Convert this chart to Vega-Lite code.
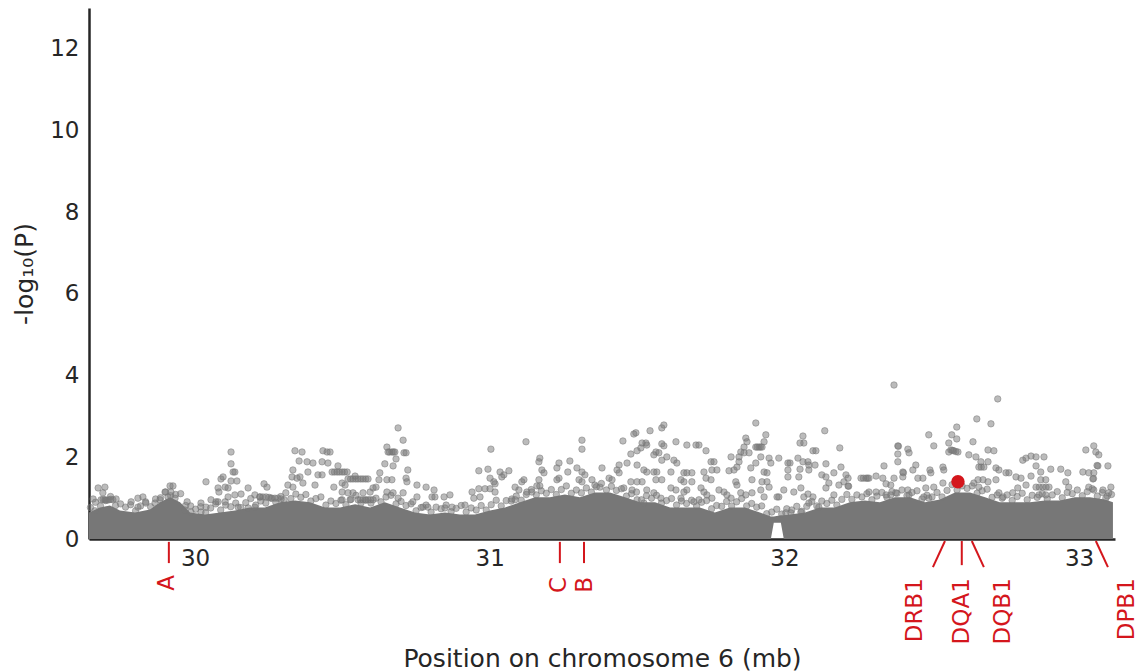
{
"$schema": "https://vega.github.io/schema/vega-lite/v6.json",
"width": 1026, "height": 531,
"autosize": {"type": "none"},
"padding": {"left": 89, "top": 8, "right": 24, "bottom": 132},
"background": "white",
"config": {
 "view": {"stroke": null},
 "font": "DejaVu Sans",
 "axis": {"grid": false, "ticks": false, "domainColor": "#262626", "domainWidth": 2.5, "labelColor": "#262626", "titleColor": "#262626", "labelFontSize": 23, "titleFontSize": 25, "titleFontWeight": "normal", "labelFont": "DejaVu Sans", "titleFont": "DejaVu Sans"}
},
"layer": [
 {
  "data": {"values": [
   {"x":29.640,"y":0.65,"lo":0},{"x":29.677,"y":0.77,"lo":0},{"x":29.711,"y":0.82,"lo":0},{"x":29.745,"y":0.70,"lo":0},{"x":29.796,"y":0.65,"lo":0},{"x":29.847,"y":0.72,"lo":0},{"x":29.881,"y":0.90,"lo":0},{"x":29.915,"y":1.02,"lo":0},{"x":29.949,"y":0.90,"lo":0},{"x":29.983,"y":0.65,"lo":0},{"x":30.034,"y":0.60,"lo":0},{"x":30.085,"y":0.65,"lo":0},{"x":30.135,"y":0.70,"lo":0},{"x":30.186,"y":0.77,"lo":0},{"x":30.237,"y":0.77,"lo":0},{"x":30.288,"y":0.90,"lo":0},{"x":30.339,"y":0.94,"lo":0},{"x":30.390,"y":0.90,"lo":0},{"x":30.441,"y":0.77,"lo":0},{"x":30.492,"y":0.77,"lo":0},{"x":30.543,"y":0.85,"lo":0},{"x":30.594,"y":0.77,"lo":0},{"x":30.644,"y":0.90,"lo":0},{"x":30.695,"y":0.77,"lo":0},{"x":30.746,"y":0.65,"lo":0},{"x":30.797,"y":0.60,"lo":0},{"x":30.848,"y":0.65,"lo":0},{"x":30.899,"y":0.60,"lo":0},{"x":30.950,"y":0.60,"lo":0},{"x":31.001,"y":0.70,"lo":0},{"x":31.052,"y":0.77,"lo":0},{"x":31.103,"y":0.90,"lo":0},{"x":31.154,"y":1.02,"lo":0},{"x":31.204,"y":1.02,"lo":0},{"x":31.255,"y":1.09,"lo":0},{"x":31.306,"y":1.02,"lo":0},{"x":31.357,"y":1.14,"lo":0},{"x":31.408,"y":1.14,"lo":0},{"x":31.459,"y":1.02,"lo":0},{"x":31.510,"y":0.90,"lo":0},{"x":31.561,"y":0.90,"lo":0},{"x":31.612,"y":0.77,"lo":0},{"x":31.662,"y":0.77,"lo":0},{"x":31.713,"y":0.77,"lo":0},{"x":31.764,"y":0.65,"lo":0},{"x":31.815,"y":0.77,"lo":0},{"x":31.866,"y":0.77,"lo":0},{"x":31.917,"y":0.65,"lo":0},{"x":31.954,"y":0.55,"lo":0},{"x":31.964,"y":0.55,"lo":0.40},{"x":31.988,"y":0.58,"lo":0.40},{"x":31.998,"y":0.58,"lo":0},{"x":32.019,"y":0.60,"lo":0},{"x":32.070,"y":0.65,"lo":0},{"x":32.120,"y":0.77,"lo":0},{"x":32.171,"y":0.77,"lo":0},{"x":32.222,"y":0.90,"lo":0},{"x":32.273,"y":0.94,"lo":0},{"x":32.324,"y":0.90,"lo":0},{"x":32.375,"y":1.02,"lo":0},{"x":32.426,"y":1.02,"lo":0},{"x":32.477,"y":0.90,"lo":0},{"x":32.528,"y":0.97,"lo":0},{"x":32.579,"y":1.14,"lo":0},{"x":32.630,"y":1.14,"lo":0},{"x":32.681,"y":1.02,"lo":0},{"x":32.731,"y":0.90,"lo":0},{"x":32.782,"y":0.90,"lo":0},{"x":32.833,"y":0.90,"lo":0},{"x":32.884,"y":0.94,"lo":0},{"x":32.935,"y":0.94,"lo":0},{"x":32.986,"y":1.02,"lo":0},{"x":33.037,"y":1.02,"lo":0},{"x":33.088,"y":0.97,"lo":0},{"x":33.115,"y":0.90,"lo":0}
  ]},
  "mark": {"type": "area", "color": "#777777", "opacity": 1},
  "encoding": {
   "x": {"field": "x", "type": "quantitative", "title": "Position on chromosome 6 (mb)", "scale": {"domain": [29.64, 33.122], "nice": false, "zero": false}, "axis": {"values": [30, 31, 32, 33], "format": "d", "labelPadding": 8, "titlePadding": 76}},
   "y": {"field": "y", "type": "quantitative", "title": "-log₁₀(P)", "scale": {"domain": [0, 13], "nice": false}, "axis": {"values": [0, 2, 4, 6, 8, 10, 12], "labelPadding": 10, "titlePadding": 12}},
   "y2": {"field": "lo"}
  }
 },
 {
  "data": {"values": [
   {"x":29.645,"y":0.77},{"x":29.662,"y":0.90},{"x":29.679,"y":0.81},{"x":29.696,"y":0.94},{"x":29.713,"y":1.04},{"x":29.730,"y":0.82},{"x":29.747,"y":0.86},{"x":29.764,"y":0.78},{"x":29.781,"y":0.84},{"x":29.798,"y":0.69},{"x":29.815,"y":0.81},{"x":29.832,"y":0.91},{"x":29.849,"y":0.79},{"x":29.866,"y":0.98},{"x":29.883,"y":1.01},{"x":29.900,"y":1.15},{"x":29.917,"y":1.06},{"x":29.934,"y":1.09},{"x":29.951,"y":1.11},{"x":29.968,"y":0.82},{"x":29.985,"y":0.81},{"x":30.002,"y":0.73},{"x":30.019,"y":0.79},{"x":30.036,"y":0.64},{"x":30.053,"y":0.76},{"x":30.070,"y":0.86},{"x":30.087,"y":0.71},{"x":30.104,"y":0.83},{"x":30.121,"y":0.79},{"x":30.138,"y":0.88},{"x":30.155,"y":0.77},{"x":30.172,"y":0.89},{"x":30.189,"y":0.99},{"x":30.206,"y":0.83},{"x":30.223,"y":0.93},{"x":30.240,"y":0.88},{"x":30.257,"y":1.00},{"x":30.274,"y":0.90},{"x":30.291,"y":1.04},{"x":30.308,"y":1.13},{"x":30.325,"y":0.99},{"x":30.342,"y":1.10},{"x":30.359,"y":1.02},{"x":30.376,"y":1.09},{"x":30.393,"y":0.93},{"x":30.410,"y":0.99},{"x":30.427,"y":1.03},{"x":30.444,"y":0.83},{"x":30.461,"y":0.93},{"x":30.478,"y":0.87},{"x":30.495,"y":0.95},{"x":30.512,"y":0.84},{"x":30.529,"y":0.97},{"x":30.546,"y":1.07},{"x":30.563,"y":0.88},{"x":30.580,"y":0.95},{"x":30.597,"y":0.88},{"x":30.614,"y":1.00},{"x":30.631,"y":0.91},{"x":30.648,"y":1.03},{"x":30.665,"y":1.07},{"x":30.682,"y":0.86},{"x":30.699,"y":0.92},{"x":30.716,"y":0.82},{"x":30.733,"y":0.86},{"x":30.750,"y":0.69},{"x":30.767,"y":0.77},{"x":30.784,"y":0.83},{"x":30.801,"y":0.66},{"x":30.818,"y":0.78},{"x":30.835,"y":0.74},{"x":30.852,"y":0.83},{"x":30.869,"y":0.67},{"x":30.886,"y":0.75},{"x":30.903,"y":0.82},{"x":30.920,"y":0.66},{"x":30.937,"y":0.76},{"x":30.954,"y":0.71},{"x":30.971,"y":0.82},{"x":30.988,"y":0.71},{"x":31.005,"y":0.84},{"x":31.022,"y":0.95},{"x":31.039,"y":0.81},{"x":31.056,"y":0.94},{"x":31.073,"y":0.93},{"x":31.090,"y":1.05},{"x":31.107,"y":0.95},{"x":31.124,"y":1.09},{"x":31.141,"y":1.21},{"x":31.158,"y":1.08},{"x":31.175,"y":1.18},{"x":31.192,"y":1.12},{"x":31.209,"y":1.21},{"x":31.226,"y":1.09},{"x":31.243,"y":1.21},{"x":31.260,"y":1.30},{"x":31.277,"y":1.12},{"x":31.294,"y":1.20},{"x":31.311,"y":1.13},{"x":31.328,"y":1.25},{"x":31.345,"y":1.15},{"x":31.362,"y":1.28},{"x":31.379,"y":1.36},{"x":31.396,"y":1.20},{"x":31.413,"y":1.29},{"x":31.430,"y":1.19},{"x":31.447,"y":1.23},{"x":31.464,"y":1.05},{"x":31.481,"y":1.11},{"x":31.498,"y":1.15},{"x":31.515,"y":0.96},{"x":31.532,"y":1.06},{"x":31.549,"y":1.00},{"x":31.566,"y":1.07},{"x":31.583,"y":0.88},{"x":31.600,"y":0.94},{"x":31.617,"y":0.99},{"x":31.634,"y":0.83},{"x":31.651,"y":0.93},{"x":31.668,"y":0.87},{"x":31.685,"y":0.95},{"x":31.702,"y":0.81},{"x":31.719,"y":0.90},{"x":31.736,"y":0.94},{"x":31.753,"y":0.74},{"x":31.770,"y":0.82},{"x":31.787,"y":0.80},{"x":31.804,"y":0.92},{"x":31.821,"y":0.81},{"x":31.838,"y":0.91},{"x":31.855,"y":0.99},{"x":31.872,"y":0.81},{"x":31.889,"y":0.87},{"x":31.906,"y":0.78},{"x":31.923,"y":0.81},{"x":31.940,"y":0.62},{"x":31.957,"y":0.66},{"x":31.974,"y":0.73},{"x":31.991,"y":0.61},{"x":32.008,"y":0.74},{"x":32.025,"y":0.71},{"x":32.042,"y":0.80},{"x":32.059,"y":0.68},{"x":32.076,"y":0.80},{"x":32.093,"y":0.92},{"x":32.110,"y":0.81},{"x":32.127,"y":0.93},{"x":32.144,"y":0.87},{"x":32.161,"y":0.95},{"x":32.178,"y":0.83},{"x":32.195,"y":0.97},{"x":32.212,"y":1.09},{"x":32.229,"y":0.97},{"x":32.246,"y":1.08},{"x":32.263,"y":1.03},{"x":32.280,"y":1.11},{"x":32.297,"y":0.96},{"x":32.314,"y":1.05},{"x":32.331,"y":1.14},{"x":32.348,"y":1.02},{"x":32.365,"y":1.16},{"x":32.382,"y":1.12},{"x":32.399,"y":1.20},{"x":32.416,"y":1.06},{"x":32.433,"y":1.14},{"x":32.450,"y":1.18},{"x":32.467,"y":0.98},{"x":32.484,"y":1.07},{"x":32.501,"y":1.03},{"x":32.518,"y":1.14},{"x":32.535,"y":1.03},{"x":32.552,"y":1.19},{"x":32.569,"y":1.33},{"x":32.586,"y":1.20},{"x":32.603,"y":1.30},{"x":32.620,"y":1.24},{"x":32.637,"y":1.30},{"x":32.654,"y":1.12},{"x":32.671,"y":1.18},{"x":32.688,"y":1.22},{"x":32.705,"y":1.02},{"x":32.722,"y":1.08},{"x":32.739,"y":1.00},{"x":32.756,"y":1.08},{"x":32.773,"y":0.94},{"x":32.790,"y":1.04},{"x":32.807,"y":1.12},{"x":32.824,"y":0.96},{"x":32.841,"y":1.07},{"x":32.858,"y":1.02},{"x":32.875,"y":1.11},{"x":32.892,"y":0.98},{"x":32.909,"y":1.08},{"x":32.926,"y":1.16},{"x":32.943,"y":1.01},{"x":32.960,"y":1.14},{"x":32.977,"y":1.11},{"x":32.994,"y":1.20},{"x":33.011,"y":1.06},{"x":33.028,"y":1.16},{"x":33.045,"y":1.23},{"x":33.062,"y":1.05},{"x":33.079,"y":1.14},{"x":33.096,"y":1.05},{"x":33.110,"y":1.09},
   {"x":29.654,"y":0.98},{"x":29.671,"y":1.25},{"x":29.694,"y":1.27},{"x":29.687,"y":1.13},{"x":29.681,"y":0.96},{"x":29.694,"y":0.96},{"x":29.708,"y":0.96},{"x":29.721,"y":0.96},{"x":29.688,"y":0.97},{"x":29.701,"y":0.95},{"x":29.714,"y":0.97},{"x":29.732,"y":0.98},{"x":29.660,"y":0.69},{"x":29.783,"y":0.91},{"x":29.806,"y":1.00},{"x":29.823,"y":1.03},{"x":29.833,"y":0.88},{"x":29.806,"y":0.78},{"x":29.864,"y":0.88},{"x":29.881,"y":0.96},{"x":29.898,"y":1.15},{"x":29.915,"y":1.30},{"x":29.925,"y":1.30},{"x":29.918,"y":1.15},{"x":29.908,"y":1.03},{"x":29.932,"y":1.00},{"x":29.973,"y":0.91},{"x":29.966,"y":0.71},{"x":29.986,"y":0.66},{"x":30.020,"y":0.88},{"x":30.037,"y":0.78},{"x":30.054,"y":0.96},{"x":30.071,"y":0.91},{"x":30.037,"y":1.40},{"x":30.088,"y":1.47},{"x":30.095,"y":1.52},{"x":30.078,"y":1.25},{"x":30.081,"y":1.15},{"x":30.102,"y":1.27},{"x":30.112,"y":1.25},{"x":30.122,"y":2.13},{"x":30.122,"y":1.84},{"x":30.129,"y":1.64},{"x":30.135,"y":1.64},{"x":30.122,"y":1.42},{"x":30.142,"y":1.42},{"x":30.112,"y":1.03},{"x":30.135,"y":1.08},{"x":30.156,"y":1.10},{"x":30.180,"y":1.25},{"x":30.102,"y":0.91},{"x":30.078,"y":0.91},{"x":30.203,"y":1.08},{"x":30.220,"y":1.03},{"x":30.146,"y":0.78},{"x":30.180,"y":0.76},{"x":30.203,"y":0.78},{"x":30.020,"y":0.66},
   {"x":30.689,"y":2.72},{"x":30.706,"y":2.42},{"x":30.709,"y":2.11},{"x":30.716,"y":2.11},{"x":30.655,"y":2.13},{"x":30.660,"y":2.13},{"x":30.668,"y":2.13},{"x":30.673,"y":2.13},{"x":30.678,"y":2.13},{"x":30.651,"y":2.25},{"x":30.682,"y":1.96},{"x":30.644,"y":1.84},{"x":30.672,"y":1.79},{"x":30.722,"y":1.69},{"x":30.716,"y":1.49},{"x":30.719,"y":1.40},{"x":30.668,"y":1.45},{"x":30.651,"y":1.45},{"x":30.627,"y":1.62},{"x":30.624,"y":1.45},{"x":30.753,"y":1.32},{"x":30.784,"y":1.27},{"x":30.339,"y":2.16},{"x":30.363,"y":2.13},{"x":30.434,"y":2.16},{"x":30.448,"y":2.13},{"x":30.458,"y":2.13},{"x":30.353,"y":1.91},{"x":30.380,"y":1.89},{"x":30.400,"y":1.86},{"x":30.431,"y":1.89},{"x":30.451,"y":1.86},{"x":30.485,"y":1.79},{"x":30.383,"y":1.64},{"x":30.417,"y":1.57},{"x":30.431,"y":1.57},{"x":30.465,"y":1.64},{"x":30.473,"y":1.64},{"x":30.482,"y":1.64},{"x":30.490,"y":1.64},{"x":30.499,"y":1.64},{"x":30.507,"y":1.64},{"x":30.516,"y":1.64},{"x":30.332,"y":1.69},{"x":30.329,"y":1.52},{"x":30.346,"y":1.49},{"x":30.356,"y":1.52},{"x":30.519,"y":1.47},{"x":30.528,"y":1.47},{"x":30.536,"y":1.47},{"x":30.545,"y":1.47},{"x":30.553,"y":1.47},{"x":30.562,"y":1.47},{"x":30.570,"y":1.47},{"x":30.579,"y":1.47},{"x":30.587,"y":1.47},{"x":30.543,"y":1.54},{"x":30.234,"y":1.35},{"x":30.244,"y":1.27},{"x":30.315,"y":1.32},{"x":30.332,"y":1.27},{"x":30.366,"y":1.37},{"x":30.407,"y":1.32},{"x":30.499,"y":1.37},{"x":30.509,"y":1.32},{"x":30.471,"y":1.27},{"x":30.604,"y":1.25},{"x":30.614,"y":1.27},{"x":30.499,"y":1.15},{"x":30.519,"y":1.13},{"x":30.536,"y":1.13},{"x":30.553,"y":0.96},{"x":30.561,"y":0.96},{"x":30.570,"y":0.96},{"x":30.578,"y":0.96},{"x":30.587,"y":0.96},{"x":30.595,"y":0.96},{"x":30.604,"y":0.96},{"x":30.499,"y":0.96},{"x":30.526,"y":0.96},{"x":30.570,"y":1.13},{"x":30.594,"y":1.15},{"x":30.651,"y":1.15},{"x":30.672,"y":1.13},{"x":30.689,"y":1.00},{"x":30.706,"y":1.13},{"x":30.739,"y":0.91},{"x":30.753,"y":1.03},{"x":30.773,"y":0.78},{"x":30.790,"y":0.78},{"x":30.804,"y":1.03},{"x":30.220,"y":1.03},{"x":30.230,"y":1.03},{"x":30.241,"y":1.03},{"x":30.251,"y":1.02},{"x":30.261,"y":1.00},{"x":30.271,"y":1.00},{"x":30.281,"y":1.00},{"x":30.292,"y":0.98},{"x":30.302,"y":0.96},
   {"x":31.004,"y":2.20},{"x":31.123,"y":2.38},{"x":31.313,"y":2.42},{"x":31.313,"y":2.20},{"x":30.963,"y":1.67},{"x":30.994,"y":1.71},{"x":31.035,"y":1.64},{"x":31.048,"y":1.57},{"x":31.065,"y":1.67},{"x":31.041,"y":1.52},{"x":31.001,"y":1.49},{"x":31.014,"y":1.40},{"x":31.018,"y":1.35},{"x":31.167,"y":1.89},{"x":31.170,"y":1.98},{"x":31.177,"y":1.69},{"x":31.184,"y":1.62},{"x":31.235,"y":1.86},{"x":31.228,"y":1.74},{"x":31.272,"y":1.91},{"x":31.265,"y":1.64},{"x":31.296,"y":1.74},{"x":31.313,"y":1.64},{"x":31.323,"y":1.57},{"x":31.381,"y":1.74},{"x":31.109,"y":1.40},{"x":31.116,"y":1.45},{"x":31.086,"y":1.27},{"x":31.099,"y":1.20},{"x":31.167,"y":1.45},{"x":30.963,"y":1.23},{"x":30.984,"y":1.23},{"x":31.001,"y":1.23},{"x":30.940,"y":1.15},{"x":30.967,"y":1.03},{"x":31.018,"y":1.15},{"x":31.075,"y":0.98},{"x":31.086,"y":0.96},{"x":31.126,"y":1.15},{"x":31.143,"y":1.15},{"x":31.160,"y":1.30},{"x":31.170,"y":1.30},{"x":31.228,"y":1.45},{"x":31.235,"y":1.49},{"x":31.303,"y":1.45},{"x":31.313,"y":1.40},{"x":31.347,"y":1.45},{"x":31.357,"y":1.32},{"x":31.374,"y":1.27},{"x":30.811,"y":1.20},{"x":30.845,"y":1.03},{"x":30.865,"y":1.08},{"x":30.814,"y":1.03},{"x":30.916,"y":0.83},{"x":30.946,"y":1.00},{"x":30.872,"y":0.78},{"x":30.848,"y":0.76},
   {"x":31.591,"y":2.79},{"x":31.584,"y":2.72},{"x":31.544,"y":2.65},{"x":31.496,"y":2.60},{"x":31.489,"y":2.57},{"x":31.903,"y":2.84},{"x":31.452,"y":2.40},{"x":31.517,"y":2.35},{"x":31.530,"y":2.35},{"x":31.533,"y":2.30},{"x":31.584,"y":2.33},{"x":31.591,"y":2.28},{"x":31.632,"y":2.38},{"x":31.669,"y":2.30},{"x":31.700,"y":2.30},{"x":31.710,"y":2.30},{"x":31.734,"y":2.16},{"x":31.564,"y":2.13},{"x":31.574,"y":2.11},{"x":31.557,"y":2.06},{"x":31.500,"y":2.16},{"x":31.513,"y":2.23},{"x":31.479,"y":2.08},{"x":31.937,"y":2.55},{"x":31.931,"y":2.38},{"x":31.869,"y":2.47},{"x":31.873,"y":2.38},{"x":31.863,"y":2.25},{"x":31.903,"y":2.25},{"x":31.908,"y":2.25},{"x":31.914,"y":2.25},{"x":31.919,"y":2.25},{"x":31.924,"y":2.25},{"x":31.852,"y":2.13},{"x":31.863,"y":2.11},{"x":31.880,"y":2.11},{"x":31.819,"y":2.01},{"x":31.846,"y":2.01},{"x":31.948,"y":1.98},{"x":31.954,"y":1.86},{"x":31.920,"y":2.01},{"x":31.751,"y":1.89},{"x":31.761,"y":1.89},{"x":31.846,"y":1.89},{"x":31.839,"y":1.76},{"x":31.903,"y":1.86},{"x":31.886,"y":1.74},{"x":31.439,"y":1.81},{"x":31.432,"y":1.69},{"x":31.439,"y":1.62},{"x":31.466,"y":1.86},{"x":31.500,"y":1.81},{"x":31.584,"y":1.93},{"x":31.601,"y":2.01},{"x":31.625,"y":1.93},{"x":31.635,"y":1.86},{"x":31.523,"y":1.69},{"x":31.533,"y":1.64},{"x":31.557,"y":1.64},{"x":31.567,"y":1.64},{"x":31.615,"y":1.64},{"x":31.659,"y":1.62},{"x":31.669,"y":1.62},{"x":31.686,"y":1.62},{"x":31.727,"y":1.64},{"x":31.754,"y":1.69},{"x":31.771,"y":1.69},{"x":31.812,"y":1.67},{"x":31.829,"y":1.69},{"x":31.941,"y":1.62},{"x":31.931,"y":1.64},{"x":31.405,"y":1.49},{"x":31.415,"y":1.45},{"x":31.479,"y":1.40},{"x":31.500,"y":1.40},{"x":31.517,"y":1.40},{"x":31.564,"y":1.45},{"x":31.584,"y":1.45},{"x":31.649,"y":1.45},{"x":31.659,"y":1.40},{"x":31.686,"y":1.40},{"x":31.734,"y":1.49},{"x":31.751,"y":1.45},{"x":31.835,"y":1.40},{"x":31.839,"y":1.32},{"x":31.890,"y":1.45},{"x":31.924,"y":1.40},{"x":31.941,"y":1.40},{"x":31.948,"y":1.27},{"x":31.615,"y":1.25},{"x":31.632,"y":1.20},{"x":31.659,"y":1.15},{"x":31.669,"y":1.20},{"x":31.455,"y":1.25},{"x":31.483,"y":1.20},{"x":31.533,"y":1.20},{"x":31.557,"y":1.13},{"x":31.717,"y":1.25},{"x":31.727,"y":1.15},{"x":31.778,"y":1.20},{"x":31.795,"y":1.15},{"x":31.805,"y":1.08},{"x":31.819,"y":1.00},{"x":31.852,"y":1.13},{"x":31.869,"y":1.08},{"x":31.890,"y":1.13},{"x":31.920,"y":1.20},{"x":31.931,"y":1.03},{"x":31.975,"y":1.03},{"x":31.500,"y":0.96},{"x":31.523,"y":0.88},{"x":31.581,"y":1.00},{"x":31.649,"y":1.00},{"x":31.693,"y":0.91},{"x":31.710,"y":0.96},{"x":31.737,"y":1.08},{"x":31.754,"y":1.00},
   {"x":32.372,"y":3.77},{"x":32.137,"y":2.65},{"x":32.063,"y":2.52},{"x":32.053,"y":2.35},{"x":32.066,"y":2.35},{"x":32.097,"y":2.16},{"x":32.107,"y":2.16},{"x":32.188,"y":2.23},{"x":31.981,"y":1.98},{"x":32.046,"y":1.98},{"x":32.063,"y":1.89},{"x":32.080,"y":1.89},{"x":32.012,"y":1.86},{"x":32.019,"y":1.86},{"x":32.385,"y":2.28},{"x":32.387,"y":2.27},{"x":32.419,"y":2.20},{"x":32.423,"y":2.11},{"x":32.490,"y":2.55},{"x":32.507,"y":2.28},{"x":32.558,"y":2.35},{"x":32.558,"y":2.13},{"x":32.385,"y":1.89},{"x":32.385,"y":2.08},{"x":32.141,"y":1.84},{"x":32.083,"y":1.81},{"x":32.104,"y":1.81},{"x":32.053,"y":1.71},{"x":32.192,"y":1.76},{"x":32.338,"y":1.79},{"x":32.446,"y":1.81},{"x":32.436,"y":1.69},{"x":32.494,"y":1.69},{"x":32.497,"y":1.62},{"x":32.538,"y":1.76},{"x":32.541,"y":1.69},{"x":32.012,"y":1.69},{"x":32.012,"y":1.52},{"x":32.083,"y":1.69},{"x":32.049,"y":1.52},{"x":32.127,"y":1.57},{"x":32.168,"y":1.62},{"x":32.151,"y":1.37},{"x":32.141,"y":1.25},{"x":32.209,"y":1.57},{"x":32.216,"y":1.49},{"x":32.260,"y":1.49},{"x":32.268,"y":1.49},{"x":32.277,"y":1.49},{"x":32.282,"y":1.49},{"x":32.287,"y":1.49},{"x":32.311,"y":1.54},{"x":32.334,"y":1.49},{"x":32.402,"y":1.64},{"x":32.404,"y":1.62},{"x":32.402,"y":1.52},{"x":32.372,"y":1.49},{"x":32.361,"y":1.32},{"x":32.453,"y":1.49},{"x":32.470,"y":1.49},{"x":32.480,"y":1.25},{"x":32.507,"y":1.27},{"x":32.538,"y":1.37},{"x":32.216,"y":1.30},{"x":32.218,"y":1.29},{"x":32.345,"y":1.35},{"x":32.185,"y":1.32},{"x":32.202,"y":1.40},{"x":31.981,"y":1.03},{"x":32.032,"y":1.15},{"x":32.056,"y":1.25},{"x":32.066,"y":1.03},{"x":32.080,"y":1.10},{"x":32.097,"y":1.03},{"x":32.168,"y":1.08},{"x":32.287,"y":1.15},{"x":32.311,"y":1.15},{"x":32.345,"y":1.08},{"x":32.361,"y":1.08},{"x":32.378,"y":1.13},{"x":32.419,"y":1.20},{"x":32.423,"y":1.08},{"x":32.473,"y":1.03},{"x":32.490,"y":1.00},{"x":32.005,"y":0.64},{"x":32.022,"y":0.64},{"x":32.056,"y":0.66},{"x":32.083,"y":0.88},{"x":32.117,"y":0.78},{"x":31.998,"y":1.20},{"x":32.141,"y":1.52},
   {"x":32.724,"y":3.43},{"x":32.653,"y":2.94},{"x":32.701,"y":2.82},{"x":32.585,"y":2.74},{"x":32.568,"y":2.55},{"x":32.585,"y":2.45},{"x":32.640,"y":2.38},{"x":32.565,"y":2.18},{"x":32.570,"y":2.17},{"x":32.575,"y":2.16},{"x":32.582,"y":2.14},{"x":32.589,"y":2.13},{"x":32.626,"y":2.06},{"x":32.650,"y":2.01},{"x":32.667,"y":1.89},{"x":32.691,"y":1.89},{"x":32.691,"y":2.18},{"x":32.711,"y":2.16},{"x":32.809,"y":1.93},{"x":32.820,"y":1.98},{"x":32.837,"y":2.03},{"x":32.854,"y":2.01},{"x":32.881,"y":2.01},{"x":32.660,"y":1.76},{"x":32.668,"y":1.76},{"x":32.677,"y":1.76},{"x":32.718,"y":1.74},{"x":32.728,"y":1.69},{"x":32.854,"y":1.79},{"x":32.870,"y":1.64},{"x":32.904,"y":1.71},{"x":32.938,"y":1.71},{"x":32.962,"y":1.62},{"x":33.023,"y":2.18},{"x":33.050,"y":2.28},{"x":33.057,"y":2.13},{"x":33.067,"y":2.06},{"x":33.064,"y":1.79},{"x":33.061,"y":1.80},{"x":33.098,"y":1.79},{"x":33.013,"y":1.64},{"x":33.033,"y":1.62},{"x":33.050,"y":1.62},{"x":33.047,"y":1.47},{"x":33.049,"y":1.48},{"x":32.752,"y":1.62},{"x":32.762,"y":1.62},{"x":32.786,"y":1.52},{"x":32.803,"y":1.49},{"x":32.837,"y":1.54},{"x":32.870,"y":1.45},{"x":32.887,"y":1.45},{"x":32.657,"y":1.45},{"x":32.674,"y":1.45},{"x":32.691,"y":1.40},{"x":32.718,"y":1.45},{"x":32.854,"y":1.27},{"x":32.865,"y":1.27},{"x":32.877,"y":1.27},{"x":32.888,"y":1.27},{"x":32.898,"y":1.27},{"x":32.792,"y":1.25},{"x":32.820,"y":1.32},{"x":32.643,"y":1.37},{"x":32.660,"y":1.27},{"x":33.108,"y":1.27},{"x":33.081,"y":1.20},{"x":33.033,"y":1.27},{"x":33.050,"y":1.20},{"x":32.955,"y":1.40},{"x":32.965,"y":1.27},{"x":32.864,"y":1.08},{"x":32.887,"y":1.08},{"x":32.728,"y":1.13},{"x":32.742,"y":1.03},{"x":32.775,"y":1.13},{"x":33.101,"y":1.13},{"x":33.091,"y":1.00}
  ]},
  "mark": {"type": "point", "shape": "circle", "filled": true, "size": 42, "fill": "#777777", "fillOpacity": 0.5, "stroke": "#777777", "strokeOpacity": 0.5, "strokeWidth": 1},
  "encoding": {
   "x": {"field": "x", "type": "quantitative", "title": "Position on chromosome 6 (mb)"},
   "y": {"field": "y", "type": "quantitative", "title": "-log₁₀(P)"}
  }
 },
 {
  "mark": {"type": "rule", "color": "#d4161c", "strokeDash": [8, 5], "strokeWidth": 2},
  "encoding": {"y": {"datum": 7.3}}
 },
 {
  "data": {"values": [{"x": 32.589, "y": 1.40}]},
  "mark": {"type": "circle", "size": 180, "color": "#d4161c", "opacity": 1},
  "encoding": {
   "x": {"field": "x", "type": "quantitative", "title": "Position on chromosome 6 (mb)"},
   "y": {"field": "y", "type": "quantitative", "title": "-log₁₀(P)"}
  }
 },
 {
  "data": {"name": "genes", "values": [
   {"gene": "A", "x1": 29.911, "x2": 29.911, "ya": -0.07, "yb": -0.59, "lx": 29.905, "ly": -0.88},
   {"gene": "C", "x1": 31.238, "x2": 31.238, "ya": -0.07, "yb": -0.59, "lx": 31.235, "ly": -0.93},
   {"gene": "B", "x1": 31.320, "x2": 31.320, "ya": -0.07, "yb": -0.59, "lx": 31.323, "ly": -0.93},
   {"gene": "DRB1", "x1": 32.545, "x2": 32.504, "ya": -0.05, "yb": -0.69, "lx": 32.443, "ly": -0.96},
   {"gene": "DQA1", "x1": 32.602, "x2": 32.602, "ya": -0.05, "yb": -0.64, "lx": 32.602, "ly": -0.96},
   {"gene": "DQB1", "x1": 32.636, "x2": 32.677, "ya": -0.05, "yb": -0.69, "lx": 32.742, "ly": -0.96},
   {"gene": "DPB1", "x1": 33.057, "x2": 33.098, "ya": -0.05, "yb": -0.69, "lx": 33.162, "ly": -0.96}
  ]},
  "layer": [
   {
    "mark": {"type": "rule", "color": "#d4161c", "strokeWidth": 2},
    "encoding": {
     "x": {"field": "x1", "type": "quantitative", "title": "Position on chromosome 6 (mb)"},
     "x2": {"field": "x2"},
     "y": {"field": "ya", "type": "quantitative", "title": "-log₁₀(P)"},
     "y2": {"field": "yb"}
    }
   },
   {
    "mark": {"type": "text", "angle": 270, "align": "right", "baseline": "middle", "fontSize": 23, "color": "#d4161c", "font": "DejaVu Sans"},
    "encoding": {
     "x": {"field": "lx", "type": "quantitative", "title": "Position on chromosome 6 (mb)"},
     "y": {"field": "ly", "type": "quantitative", "title": "-log₁₀(P)"},
     "text": {"field": "gene"}
    }
   }
  ]
 }
]
}
